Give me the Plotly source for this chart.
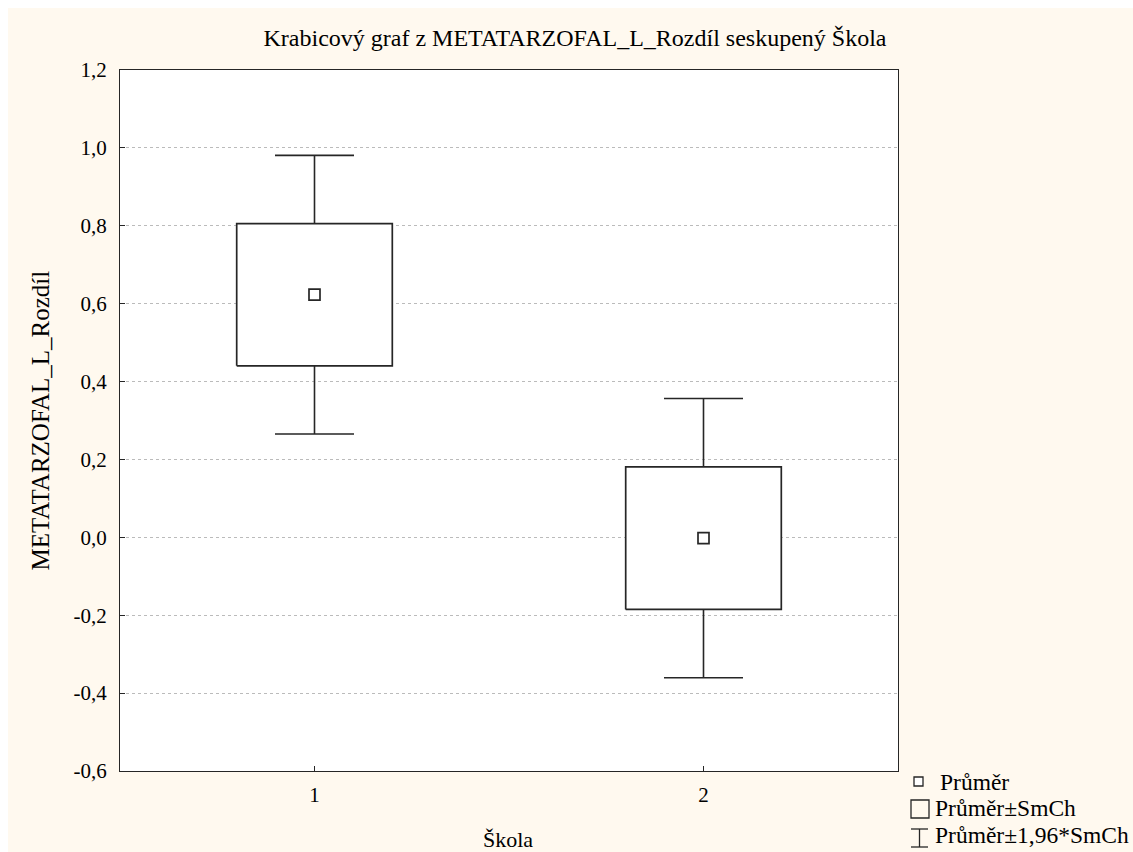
import plotly.graph_objects as go

# ---- data ----
categories = [1, 2]
category_labels = ["1", "2"]
means = [0.623, -0.002]
std_errors = [0.1825, 0.183]
ci_factor = 1.96
y_tickvals = [-0.6, -0.4, -0.2, 0.0, 0.2, 0.4, 0.6, 0.8, 1.0, 1.2]
y_ticktext = ["-0,6", "-0,4", "-0,2", "0,0", "0,2", "0,4", "0,6", "0,8", "1,0", "1,2"]
legend_labels = ["Průměr", "Průměr±SmCh", "Průměr±1,96*SmCh"]

FONT = "Liberation Serif"
LINE = "#262626"
BG = "#FFF9EF"
W, H = 1125, 844
ML, MT = 112, 62
PW, PH = 778, 701
MR, MB = W - ML - PW, H - MT - PH
BOX_HALF = 0.2

def px(x):  # figure pixel -> paper x
    return (x - ML) / PW

def py(y):  # figure pixel -> paper y
    return (MT + PH - y) / PH

fig = go.Figure()

# whiskers (mean ± 1.96*SE) as error bars
fig.add_trace(go.Scatter(
    x=categories, y=means, mode="markers",
    marker=dict(size=1, color="rgba(0,0,0,0)"),
    error_y=dict(type="data", array=[ci_factor * s for s in std_errors],
                 color=LINE, thickness=1.6, width=39.5),
    showlegend=False, hoverinfo="skip"))

# boxes (mean ± SE)
for c, m, s in zip(categories, means, std_errors):
    fig.add_trace(go.Scatter(
        x=[c - BOX_HALF, c + BOX_HALF, c + BOX_HALF, c - BOX_HALF, c - BOX_HALF],
        y=[m - s, m - s, m + s, m + s, m - s],
        mode="lines", fill="toself", fillcolor="white",
        line=dict(color=LINE, width=1.7), showlegend=False, hoverinfo="skip"))

# means
fig.add_trace(go.Scatter(
    x=categories, y=means, mode="markers",
    marker=dict(symbol="square", size=11, color="white",
                line=dict(color=LINE, width=1.7)),
    showlegend=False))

# ---- legend drawn manually ----
shapes = [
    dict(type="rect", xref="paper", yref="paper", x0=px(906), x1=px(915), y0=py(778), y1=py(769),
         line=dict(color=LINE, width=1.3), fillcolor="white"),
    dict(type="rect", xref="paper", yref="paper", x0=px(903), x1=px(921), y0=py(810), y1=py(792),
         line=dict(color=LINE, width=1.3), fillcolor="rgba(0,0,0,0)"),
    dict(type="line", xref="paper", yref="paper", x0=px(903), x1=px(920), y0=py(821), y1=py(821),
         line=dict(color=LINE, width=1.3)),
    dict(type="line", xref="paper", yref="paper", x0=px(903), x1=px(920), y0=py(839), y1=py(839),
         line=dict(color=LINE, width=1.3)),
    dict(type="line", xref="paper", yref="paper", x0=px(911.5), x1=px(911.5), y0=py(821), y1=py(839),
         line=dict(color=LINE, width=1.3)),
]
legend_pos = [(930, 774), (925, 800), (925, 827)]
annotations = []
for (lx, ly), txt in zip(legend_pos, legend_labels):
    annotations.append(dict(text=txt, xref="paper", yref="paper", x=px(lx), y=py(ly),
                            xanchor="left", yanchor="middle", showarrow=False,
                            font=dict(family=FONT, size=23.5, color="black")))
annotations.append(dict(text="METATARZOFAL_L_Rozdíl", xref="paper", yref="paper",
                        x=px(32), y=0.5, textangle=-90, xanchor="center", yanchor="middle",
                        showarrow=False, font=dict(family=FONT, size=25, color="black")))
annotations.append(dict(text="Škola", xref="paper", yref="paper",
                        x=px(500), y=py(831), xanchor="center", yanchor="middle",
                        showarrow=False, font=dict(family=FONT, size=22, color="black")))

fig.update_layout(
    width=W, height=H,
    margin=dict(l=ML, r=MR, t=MT, b=MB, pad=0),
    paper_bgcolor=BG, plot_bgcolor="white",
    font=dict(family=FONT, size=21, color="black"),
    title=dict(text="Krabicový graf z METATARZOFAL_L_Rozdíl seskupený Škola",
               x=567 / W, xref="container", xanchor="center", y=1 - 30 / H, yanchor="middle",
               font=dict(family=FONT, size=24, color="black")),
    shapes=shapes, annotations=annotations,
    showlegend=False,
)
fig.update_xaxes(range=[0.5, 2.5], tickvals=categories, ticktext=category_labels,
                 showgrid=False, zeroline=False, showline=True, linecolor=LINE, linewidth=1.3,
                 mirror=True, ticks="inside", ticklen=5, tickcolor=LINE, ticklabelstandoff=5)
fig.update_yaxes(range=[-0.6, 1.2], tickvals=y_tickvals, ticktext=y_ticktext,
                 showgrid=True, gridcolor="#BBBBBB", griddash="dot", gridwidth=1,
                 zeroline=False, showline=True, linecolor=LINE, linewidth=1.3,
                 mirror=True, ticks="inside", ticklen=5, tickcolor=LINE, ticklabelstandoff=8)

fig.write_html("out.html", post_script="document.body.style.margin='8px 0 0 8px';")
